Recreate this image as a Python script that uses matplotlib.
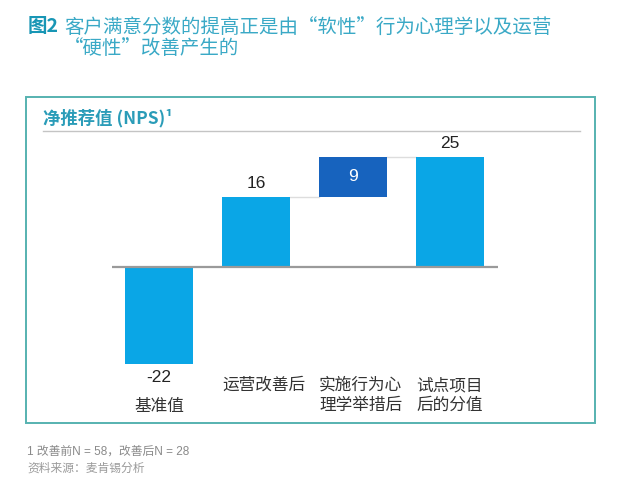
import numpy as np
import matplotlib
matplotlib.use('Agg')
import matplotlib.pyplot as plt
from matplotlib.patches import Rectangle

plt.rcParams['font.family'] = ['Noto Sans CJK SC', 'DejaVu Sans']
latin_first = ['Liberation Sans', 'Noto Sans CJK SC', 'DejaVu Sans']

#Chart data
categories = ['基准值', '运营改善后', '实施行为心\n理学举措后', '试点项目\n后的分值']
values = [-22, 16, 9, 25]
#'abs' bars start at zero, 'step' bars sit on the previous bar
kinds = ['abs', 'abs', 'step', 'abs']
title_lead = '图2'
title_line1 = '客户满意分数的提高正是由“软性”行为心理学以及运营'
title_line2 = '“硬性”改善产生的'
subtitle = '净推荐值 (NPS)¹'
footnotes = ['1 改善前N = 58，改善后N = 28', '资料来源：麦肯锡分析']

light_blue = '#0aa6e6'
dark_blue = '#1763be'
teal = '#3aa9c6'

W, H = 630, 482
fig = plt.figure(figsize=(W / 100, H / 100), dpi=100)

def fx(px):
    return px / W

def fy(py):
    return 1 - py / H

#Outer box and heading
fig.patches.append(Rectangle((fx(26), fy(423)), fx(595) - fx(26), fy(97) - fy(423),
                             transform=fig.transFigure, fill=False,
                             edgecolor='#56b2b0', linewidth=1.4))
fig.text(fx(28), fy(27), title_lead, fontsize=14, fontweight='bold',
         color='#1896b5', va='center')
fig.text(fx(64), fy(27), title_line1, fontsize=14, color=teal, va='center')
fig.text(fx(64), fy(49), title_line2, fontsize=14, color=teal, va='center')
fig.text(fx(43), fy(118), subtitle, fontsize=12.5, fontweight='bold',
         color='#2a9cb8', va='center')
fig.add_artist(plt.Line2D([fx(43), fx(580)], [fy(131), fy(131)],
                          transform=fig.transFigure, color='#c4c4c4', linewidth=1))
fig.text(fx(27), fy(452), footnotes[0], fontsize=8.5, color='#8a8a8a', va='center',
         family=latin_first)
fig.text(fx(27), fy(468), footnotes[1], fontsize=8.5, color='#9a9a9a', va='center')

#Bars axes (zero line at y=267px, 4.4px per point)
ax = fig.add_axes([fx(112), fy(420), fx(498) - fx(112), fy(130) - fy(420)])
ax.set_xlim(-0.485, 3.495)
ax.set_ylim(-(420 - 267) / 4.4, (267 - 130) / 4.4)
ax.axis('off')

x = np.arange(len(values))
bottoms = []
tops = []
level = 0
for v, k in zip(values, kinds):
    b = level if k == 'step' else 0
    bottoms.append(b)
    tops.append(b + v)
    level = b + v

colors = [dark_blue if k == 'step' else light_blue for k in kinds]
ax.bar(x, values, bottom=bottoms, width=0.7, color=colors, zorder=3)
ax.axhline(0, color='#9a9a9a', linewidth=1.6, zorder=4)

#Connector lines between consecutive bars
for i in range(1, len(values)):
    if kinds[i] == 'step' or kinds[i - 1] == 'step':
        ax.plot([x[i - 1] + 0.35, x[i] - 0.35], [tops[i - 1], tops[i - 1]],
                color='#dddddd', linewidth=1, zorder=2)

for i, (v, k) in enumerate(zip(values, kinds)):
    if k == 'step':
        ax.text(x[i], bottoms[i] + v / 2, str(v), ha='center', va='center',
                fontsize=12.5, color='white', family=latin_first)
    elif v < 0:
        ax.text(x[i], v - 3.1, str(v), ha='center', va='center',
                fontsize=12.5, color='#222222', family=latin_first)
    else:
        ax.text(x[i], v + 3.0, str(v), ha='center', va='center',
                fontsize=12.5, color='#222222', family=latin_first)

#Category labels
for i, c in enumerate(categories):
    if values[i] < 0:
        ax.text(x[i], -(398 - 267) / 4.4, c, ha='center', va='top',
                fontsize=12, color='#333333')
    else:
        ax.text(x[i] - 0.35, -(377 - 267) / 4.4, c, ha='left', va='top',
                fontsize=12, color='#333333', linespacing=1.25)

plt.savefig('out.png', dpi=100)
